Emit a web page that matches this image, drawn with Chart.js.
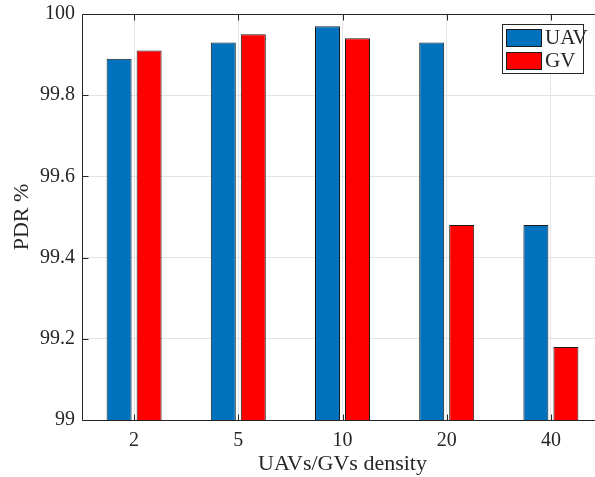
<!DOCTYPE html>
<html>
<head>
<meta charset="utf-8">
<script src="https://cdn.jsdelivr.net/npm/chart.js@4.4.1/dist/chart.umd.min.js"></script>
<style>
  html, body { margin: 0; padding: 0; background: #fff; overflow: hidden; }
  /* the plot box runs past the right edge of the picture, as in the reference */
  #wrap { width: 595px; height: 477px; overflow: hidden; }
</style>
</head>
<body>
<div id="wrap"><canvas id="pdrChart" width="620" height="477"></canvas></div>
<script>
// density categories on the x axis
const densities = ['2', '5', '10', '20', '40'];
// PDR % per series
const uavPdr = [99.89, 99.93, 99.97, 99.93, 99.48];
const gvPdr = [99.91, 99.95, 99.94, 99.48, 99.18];
const seriesNames = ['UAV', 'GV'];

const FONT = "'Liberation Serif', 'Times New Roman', serif";
const INK = '#262626';

// MATLAB style frame, inward ticks and legend box
const matlabFrame = {
    id: 'matlabFrame',
    afterDraw(chart) {
        const ctx = chart.ctx;
        const a = chart.chartArea;
        const xs = chart.scales.x, ys = chart.scales.y;
        const L = Math.round(a.left) + 0.5, T = Math.round(a.top) + 0.5, B = Math.round(a.bottom) + 0.5;
        ctx.save();
        ctx.strokeStyle = INK;
        ctx.lineWidth = 1;
        ctx.beginPath();
        // inward ticks
        ys.ticks.forEach((t, i) => {
            const y = Math.round(ys.getPixelForTick(i)) + 0.5;
            ctx.moveTo(L, y); ctx.lineTo(L + 6, y);
        });
        xs.ticks.forEach((t, i) => {
            const x = Math.round(xs.getPixelForTick(i)) + 0.5;
            ctx.moveTo(x, B); ctx.lineTo(x, B - 6);
            ctx.moveTo(x, T); ctx.lineTo(x, T + 6);
        });
        // axes box (right side falls outside the picture)
        ctx.moveTo(L, T); ctx.lineTo(a.right, T);
        ctx.moveTo(L, T); ctx.lineTo(L, B);
        ctx.moveTo(L, B); ctx.lineTo(a.right, B);
        ctx.stroke();

        // legend
        const lx = 502, ly = 24, lw = 81, lh = 49;
        ctx.fillStyle = '#fff';
        ctx.fillRect(lx, ly, lw, lh);
        ctx.strokeRect(lx + 0.5, ly + 0.5, lw, lh);
        ctx.font = '21px ' + FONT;
        ctx.textBaseline = 'middle';
        chart.data.datasets.forEach((ds, i) => {
            const sy = ly + 5 + i * 23;
            ctx.fillStyle = ds.backgroundColor;
            ctx.fillRect(lx + 4, sy, 35, 17);
            ctx.strokeStyle = '#1a1a1a';
            ctx.strokeRect(lx + 4.5, sy + 0.5, 35, 17);
            ctx.fillStyle = INK;
            ctx.fillText(ds.label, lx + 43, sy + 9);
        });
        ctx.restore();
    }
};

new Chart(document.getElementById('pdrChart'), {
    type: 'bar',
    data: {
        labels: densities,
        datasets: [
            { label: seriesNames[0], data: uavPdr, backgroundColor: '#0072BD' },
            { label: seriesNames[1], data: gvPdr, backgroundColor: '#FF0000' },
        ].map(ds => ({
            ...ds,
            borderColor: '#1a1a1a',
            borderWidth: 1,
            borderSkipped: false,
            categoryPercentage: 0.576,
            barPercentage: 0.833,
        }))
    },
    options: {
        responsive: false,
        animation: false,
        layout: { padding: { top: 14, right: 17, left: 0, bottom: 0 } },
        plugins: {
            legend: { display: false },
            tooltip: { enabled: false },
        },
        scales: {
            x: {
                grid: { offset: false, color: '#e3e3e3', drawTicks: false },
                border: { display: false },
                ticks: { color: INK, padding: 9, font: { family: FONT, size: 20 } },
                title: {
                    display: true, text: 'UAVs/GVs density', color: INK,
                    font: { family: FONT, size: 22 }, padding: { top: 0, bottom: 0 }
                },
                afterFit: s => { s.height = 57; },
            },
            y: {
                min: 99,
                max: 100,
                grid: { color: '#e3e3e3', drawTicks: false },
                border: { display: false },
                ticks: {
                    stepSize: 0.2, color: INK, padding: 7,
                    font: { family: FONT, size: 20 },
                    callback: v => Number(v.toFixed(1)),
                },
                title: {
                    display: true, text: 'PDR %', color: INK,
                    font: { family: FONT, size: 22 }, padding: { top: 9, bottom: 0 }
                },
                afterFit: s => { s.width = 82; s.paddingTop = 0; s.paddingBottom = 0; },
            }
        }
    },
    plugins: [matlabFrame]
});
</script>
</body>
</html>
